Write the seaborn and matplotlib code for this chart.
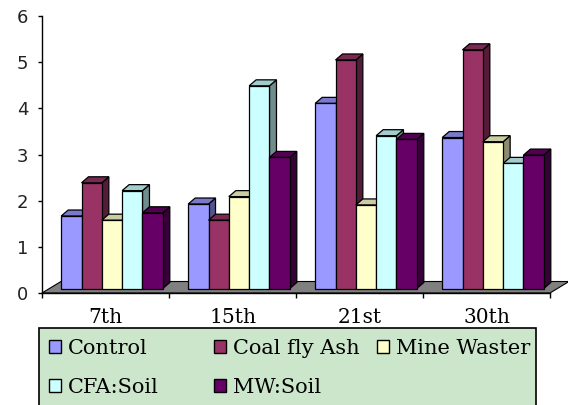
import numpy as np
import pandas as pd
import matplotlib
matplotlib.use("Agg")
import matplotlib.pyplot as plt
import seaborn as sns
from matplotlib.patches import Polygon, Rectangle, Patch
from matplotlib.transforms import ScaledTranslation, IdentityTransform
from matplotlib.colors import to_rgb

# ---- data -------------------------------------------------------------
days = ["7th", "15th", "21st", "30th"]
control = [1.57, 1.83, 4.01, 3.27]
coal_fly_ash = [2.29, 1.48, 4.95, 5.17]
mine_waster = [1.48, 1.99, 1.81, 3.18]
cfa_soil = [2.12, 4.39, 3.31, 2.71]
mw_soil = [1.64, 2.84, 3.23, 2.89]

series_names = ["Control", "Coal fly Ash", "Mine Waster", "CFA:Soil", "MW:Soil"]
series_values = [control, coal_fly_ash, mine_waster, cfa_soil, mw_soil]
series_colors = ["#9999FF", "#993366", "#FFFFCC", "#CCFFFF", "#660066"]
y_ticks = [0, 1, 2, 3, 4, 5, 6]

df = pd.DataFrame(
    [(d, name, v) for name, vals in zip(series_names, series_values)
     for d, v in zip(days, vals)],
    columns=["day", "series", "value"],
)

# ---- figure -------------------------------------------------------------
sns.set_style("white")
plt.rcParams["font.family"] = ["DejaVu Serif"]
plt.rcParams["text.color"] = "black"

W, H, DPI = 568, 405, 100
fig = plt.figure(figsize=(W / DPI, H / DPI), dpi=DPI)
fig.patch.set_facecolor("white")
ax = fig.add_axes([42 / W, 1 - 293 / H, 508 / W, 277 / H])
ax.set_zorder(2)

sns.barplot(
    data=df, x="day", y="value", hue="series",
    order=days, hue_order=series_names, palette=series_colors,
    width=0.8, saturation=1, errorbar=None, legend=False,
    edgecolor="black", linewidth=0.9, ax=ax,
)
ax.set_xlim(-0.5, 3.5)
ax.set_ylim(0, 6)
ax.set_xlabel("")
ax.set_ylabel("")
ax.set_facecolor("none")

bars = sorted(list(ax.patches), key=lambda p: p.get_x())

# oblique depth offsets (pixels)
bar_shift = (6.5, 4.5)     # bars sit part-way back on the floor
bar_depth = (7.0, 6.0)     # thickness of each column
floor_depth = (19.0, 11.5)

px = ScaledTranslation(bar_shift[0] / DPI, bar_shift[1] / DPI, fig.dpi_scale_trans)

# floor
(xl, yb), (xr, _) = ax.transData.transform([(-0.5, 0), (3.5, 0)])
floor = Polygon(
    [(xl, yb), (xr, yb), (xr + floor_depth[0], yb + floor_depth[1]),
     (xl + floor_depth[0], yb + floor_depth[1])],
    closed=True, facecolor="#808080", edgecolor="black", linewidth=0.8,
    transform=IdentityTransform(), clip_on=False, zorder=1,
)
ax.add_patch(floor)

# give each column a side and a top face
for i, bar in enumerate(bars):
    base = np.array(to_rgb(bar.get_facecolor()))
    x, w, h = bar.get_x(), bar.get_width(), bar.get_height()
    (x0, y0), (x1, y1) = ax.transData.transform([(x, 0), (x + w, h)])
    x0 += bar_shift[0]; x1 += bar_shift[0]
    y0 += bar_shift[1]; y1 += bar_shift[1]
    dx, dy = bar_depth
    z = 2 + i * 0.01
    side = Polygon([(x1, y0), (x1 + dx, y0 + dy), (x1 + dx, y1 + dy), (x1, y1)],
                   closed=True, facecolor=base * 0.55, edgecolor="black",
                   linewidth=0.9, transform=IdentityTransform(),
                   clip_on=False, zorder=z)
    top = Polygon([(x0, y1), (x0 + dx, y1 + dy), (x1 + dx, y1 + dy), (x1, y1)],
                  closed=True, facecolor=base * 0.8, edgecolor="black",
                  linewidth=0.9, transform=IdentityTransform(),
                  clip_on=False, zorder=z)
    ax.add_patch(side)
    ax.add_patch(top)
    bar.set_transform(ax.transData + px)
    bar.set_clip_on(False)
    bar.set_zorder(z + 0.005)

# axes styling
for s in ["top", "right"]:
    ax.spines[s].set_visible(False)
for s in ["left", "bottom"]:
    ax.spines[s].set_color("black")
    ax.spines[s].set_linewidth(1.0)
    ax.spines[s].set_zorder(3)

ax.set_yticks(y_ticks)
ax.set_yticklabels([str(t) for t in y_ticks])
ax.tick_params(axis="y", direction="out", length=3, width=1, pad=7,
               left=True, colors="black", labelsize=13, labelcolor="#222222")
for lab in ax.get_yticklabels():
    lab.set_fontfamily("DejaVu Sans")

ax.set_xticks(range(len(days)))
ax.set_xticklabels(days)
ax.set_xticks(np.arange(-0.5, len(days), 1.0), minor=True)
ax.tick_params(axis="x", which="major", length=0, pad=11, labelsize=14.5,
               labelcolor="black")
ax.tick_params(axis="x", which="minor", direction="out", length=3.6, width=1,
               bottom=True, colors="black")

# legend panel
fig.add_artist(Rectangle((38.6 / W, 1 - 420 / H), (536 - 38.6) / W, (420 - 328) / H,
                         transform=fig.transFigure, facecolor="#CCE6CC",
                         edgecolor="black", linewidth=1.2, zorder=1))

col_x = [48.9, 213.5, 377.0]
row_y = [348.5, 387.5]
for k, (name, color) in enumerate(zip(series_names, series_colors)):
    r, c = divmod(k, 3)
    fig.legend(
        handles=[Patch(facecolor=color, edgecolor="black", linewidth=1.0)],
        labels=[name], loc="center left",
        bbox_to_anchor=(col_x[c] / W, 1 - row_y[r] / H),
        frameon=False, borderpad=0, borderaxespad=0,
        handlelength=0.58, handleheight=0.58, handletextpad=0.35,
        labelcolor="black",
        prop={"family": "DejaVu Serif", "size": 15},
    )

fig.savefig("out.png", dpi=DPI)
